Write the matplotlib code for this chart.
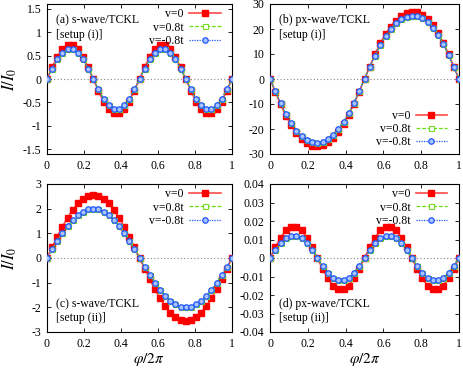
import matplotlib
matplotlib.use("Agg")
import matplotlib.pyplot as plt
import numpy as np

plt.rcParams["font.family"] = ["Liberation Serif", "DejaVu Serif"]
plt.rcParams["mathtext.fontset"] = "stix"
plt.rcParams["font.size"] = 8

# phase grid, 37 samples from 0 to 1
phi = np.arange(37) / 36

# (a) s-wave/TCKL [setup (i)]
a_v0 = [0, 0.25, 0.48, 0.64, 0.73, 0.73, 0.64, 0.48, 0.25, 0,
        -0.25, -0.48, -0.64, -0.73, -0.73, -0.64, -0.48, -0.25, 0,
        0.25, 0.48, 0.64, 0.73, 0.73, 0.64, 0.48, 0.25, 0,
        -0.25, -0.48, -0.64, -0.73, -0.73, -0.64, -0.48, -0.25, 0]
a_vp = [0, 0.22, 0.42, 0.56, 0.64, 0.64, 0.56, 0.42, 0.22, 0,
        -0.22, -0.42, -0.56, -0.64, -0.64, -0.56, -0.42, -0.22, 0,
        0.22, 0.42, 0.56, 0.64, 0.64, 0.56, 0.42, 0.22, 0,
        -0.22, -0.42, -0.56, -0.64, -0.64, -0.56, -0.42, -0.22, 0]
a_vm = [0, 0.22, 0.42, 0.56, 0.64, 0.64, 0.56, 0.42, 0.22, 0,
        -0.22, -0.42, -0.56, -0.64, -0.64, -0.56, -0.42, -0.22, 0,
        0.22, 0.42, 0.56, 0.64, 0.64, 0.56, 0.42, 0.22, 0,
        -0.22, -0.42, -0.56, -0.64, -0.64, -0.56, -0.42, -0.22, 0]

# (b) px-wave/TCKL [setup (i)]
b_v0 = [0, -5.0, -10.0, -14.6, -18.5, -21.5, -23.9, -25.6, -26.7, -26.8,
        -26.4, -25.2, -23.4, -21.0, -18.0, -14.3, -9.9, -5.0, 0,
        5.0, 9.9, 14.3, 18.0, 21.0, 23.4, 25.2, 26.4, 26.8,
        26.7, 25.6, 23.9, 21.5, 18.5, 14.6, 10.0, 5.0, 0]
b_vp = [0, -4.7, -9.5, -13.9, -17.6, -20.6, -22.9, -24.5, -25.3, -25.4,
        -25.0, -24.0, -22.3, -20.0, -17.1, -13.6, -9.4, -4.8, 0,
        4.8, 9.4, 13.6, 17.1, 20.0, 22.3, 24.0, 25.0, 25.4,
        25.3, 24.5, 22.9, 20.6, 17.6, 13.9, 9.5, 4.7, 0]
b_vm = [0, -4.7, -9.5, -13.9, -17.6, -20.6, -22.9, -24.5, -25.3, -25.4,
        -25.0, -24.0, -22.3, -20.0, -17.1, -13.6, -9.4, -4.8, 0,
        4.8, 9.4, 13.6, 17.1, 20.0, 22.3, 24.0, 25.0, 25.4,
        25.3, 24.5, 22.9, 20.6, 17.6, 13.9, 9.5, 4.7, 0]

# (c) s-wave/TCKL [setup (ii)]
c_v0 = [0, 0.44, 0.87, 1.27, 1.64, 1.95, 2.21, 2.40, 2.51, 2.55,
        2.51, 2.40, 2.21, 1.95, 1.64, 1.27, 0.87, 0.44, 0,
        -0.44, -0.87, -1.27, -1.64, -1.95, -2.21, -2.40, -2.51, -2.55,
        -2.51, -2.40, -2.21, -1.95, -1.64, -1.27, -0.87, -0.44, 0]
c_vp = [0, 0.35, 0.68, 1.00, 1.29, 1.53, 1.73, 1.88, 1.97, 2.00,
        1.97, 1.88, 1.73, 1.53, 1.29, 1.00, 0.68, 0.35, 0,
        -0.35, -0.68, -1.00, -1.29, -1.53, -1.73, -1.88, -1.97, -2.00,
        -1.97, -1.88, -1.73, -1.53, -1.29, -1.00, -0.68, -0.35, 0]
c_vm = [0, 0.35, 0.68, 1.00, 1.29, 1.53, 1.73, 1.88, 1.97, 2.00,
        1.97, 1.88, 1.73, 1.53, 1.29, 1.00, 0.68, 0.35, 0,
        -0.35, -0.68, -1.00, -1.29, -1.53, -1.73, -1.88, -1.97, -2.00,
        -1.97, -1.88, -1.73, -1.53, -1.29, -1.00, -0.68, -0.35, 0]

# (d) px-wave/TCKL [setup (ii)]
d_v0 = [0, 0.0059, 0.0110, 0.0149, 0.0169, 0.0169, 0.0149, 0.0110, 0.0059, 0,
        -0.0059, -0.0110, -0.0149, -0.0169, -0.0169, -0.0149, -0.0110, -0.0059, 0,
        0.0059, 0.0110, 0.0149, 0.0169, 0.0169, 0.0149, 0.0110, 0.0059, 0,
        -0.0059, -0.0110, -0.0149, -0.0169, -0.0169, -0.0149, -0.0110, -0.0059, 0]
d_vp = [0, 0.0042, 0.0079, 0.0107, 0.0121, 0.0121, 0.0107, 0.0079, 0.0042, 0,
        -0.0042, -0.0079, -0.0107, -0.0121, -0.0121, -0.0107, -0.0079, -0.0042, 0,
        0.0042, 0.0079, 0.0107, 0.0121, 0.0121, 0.0107, 0.0079, 0.0042, 0,
        -0.0042, -0.0079, -0.0107, -0.0121, -0.0121, -0.0107, -0.0079, -0.0042, 0]
d_vm = [0, 0.0042, 0.0079, 0.0107, 0.0121, 0.0121, 0.0107, 0.0079, 0.0042, 0,
        -0.0042, -0.0079, -0.0107, -0.0121, -0.0121, -0.0107, -0.0079, -0.0042, 0,
        0.0042, 0.0079, 0.0107, 0.0121, 0.0121, 0.0107, 0.0079, 0.0042, 0,
        -0.0042, -0.0079, -0.0107, -0.0121, -0.0121, -0.0107, -0.0079, -0.0042, 0]

labels = ["v=0", "v=0.8t", "v=-0.8t"]
xticks = [0, 0.2, 0.4, 0.6, 0.8, 1]
xticklabels = ["0", "0.2", "0.4", "0.6", "0.8", "1"]

panels = [
    # data, ylim, yticks, yticklabels, text, text pos, legend loc
    ((a_v0, a_vp, a_vm), (-1.6, 1.6), [-1.5, -1, -0.5, 0, 0.5, 1, 1.5],
     ["-1.5", "-1", "-0.5", "0", "0.5", "1", "1.5"],
     "(a) s-wave/TCKL\n[setup (i)]", "top", "upper right"),
    ((b_v0, b_vp, b_vm), (-30, 30), [-30, -20, -10, 0, 10, 20, 30],
     ["-30", "-20", "-10", "0", "10", "20", "30"],
     "(b) px-wave/TCKL\n[setup (i)]", "top", "lower right"),
    ((c_v0, c_vp, c_vm), (-3, 3), [-3, -2, -1, 0, 1, 2, 3],
     ["-3", "-2", "-1", "0", "1", "2", "3"],
     "(c) s-wave/TCKL\n[setup (ii)]", "bottom", "upper right"),
    ((d_v0, d_vp, d_vm), (-0.04, 0.04),
     [-0.04, -0.03, -0.02, -0.01, 0, 0.01, 0.02, 0.03, 0.04],
     ["-0.04", "-0.03", "-0.02", "-0.01", "0", "0.01", "0.02", "0.03", "0.04"],
     "(d) px-wave/TCKL\n[setup (ii)]", "bottom", "upper right"),
]

W, H = 463, 368
rects_px = [(47, 4, 185, 150), (270, 4, 189, 150),
            (47, 184, 185, 148), (270, 184, 189, 148)]

fig = plt.figure(figsize=(W / 100, H / 100), dpi=100)

for i, (pan, r) in enumerate(zip(panels, rects_px)):
    data, ylim, yt, ytl, txt, tpos, lloc = pan
    x0, y0, w, h = r
    ax = fig.add_axes([x0 / W, 1 - (y0 + h) / H, w / W, h / H])

    ax.axhline(0, color="#888888", lw=0.8, ls=(0, (1, 2)), zorder=1)

    ax.plot(phi, data[0], color="#ff4a4a", lw=1.2, marker="s", ms=3.9,
            mfc="red", mec="red", label=labels[0], zorder=3)
    ax.plot(phi, data[1], color="#66dd11", lw=0.9, ls=(0, (3, 1.5)), marker="s",
            ms=3.6, mfc="white", mec="#77dd22", mew=0.8, label=labels[1], zorder=4)
    ax.plot(phi, data[2], color="#2255ff", lw=0.9, ls=(0, (1, 1)), marker="o",
            ms=3.9, mfc="#a8c4ff", mec="#2255ff", mew=0.9, label=labels[2], zorder=5)

    ax.set_xlim(0, 1)
    ax.set_ylim(*ylim)
    ax.set_xticks(xticks)
    ax.set_xticklabels(xticklabels)
    ax.set_yticks(yt)
    ax.set_yticklabels(ytl)
    ax.tick_params(direction="in", top=True, right=True, length=3, width=0.6,
                   pad=4, labelsize=8.5)
    for s in ax.spines.values():
        s.set_linewidth(0.8)

    if tpos == "top":
        ax.text(0.05, 0.93, txt, transform=ax.transAxes, ha="left", va="top",
                fontsize=8.5, linespacing=1.25)
    else:
        ax.text(0.05, 0.23, txt, transform=ax.transAxes, ha="left", va="top",
                fontsize=8.5, linespacing=1.25)

    anchor = (0.97, 1.01) if lloc == "upper right" else (0.97, 0.0)
    ax.legend(loc=lloc, bbox_to_anchor=anchor, frameon=False, markerfirst=False,
              fontsize=8.5, handlelength=2.7, labelspacing=0.1,
              handletextpad=0.4, borderaxespad=0.1)

    if i % 2 == 0:
        ax.set_ylabel(r"$I/I_0$", fontsize=12, labelpad=2)
        ax.yaxis.set_label_coords(-0.15, 0.5)
    if i >= 2:
        ax.set_xlabel(r"$\varphi/2\pi$", fontsize=11, labelpad=2)
        if i == 2:
            ax.xaxis.set_label_coords(0.55, -0.125)
        else:
            ax.xaxis.set_label_coords(0.5, -0.125)

fig.savefig("out.png", dpi=100)
